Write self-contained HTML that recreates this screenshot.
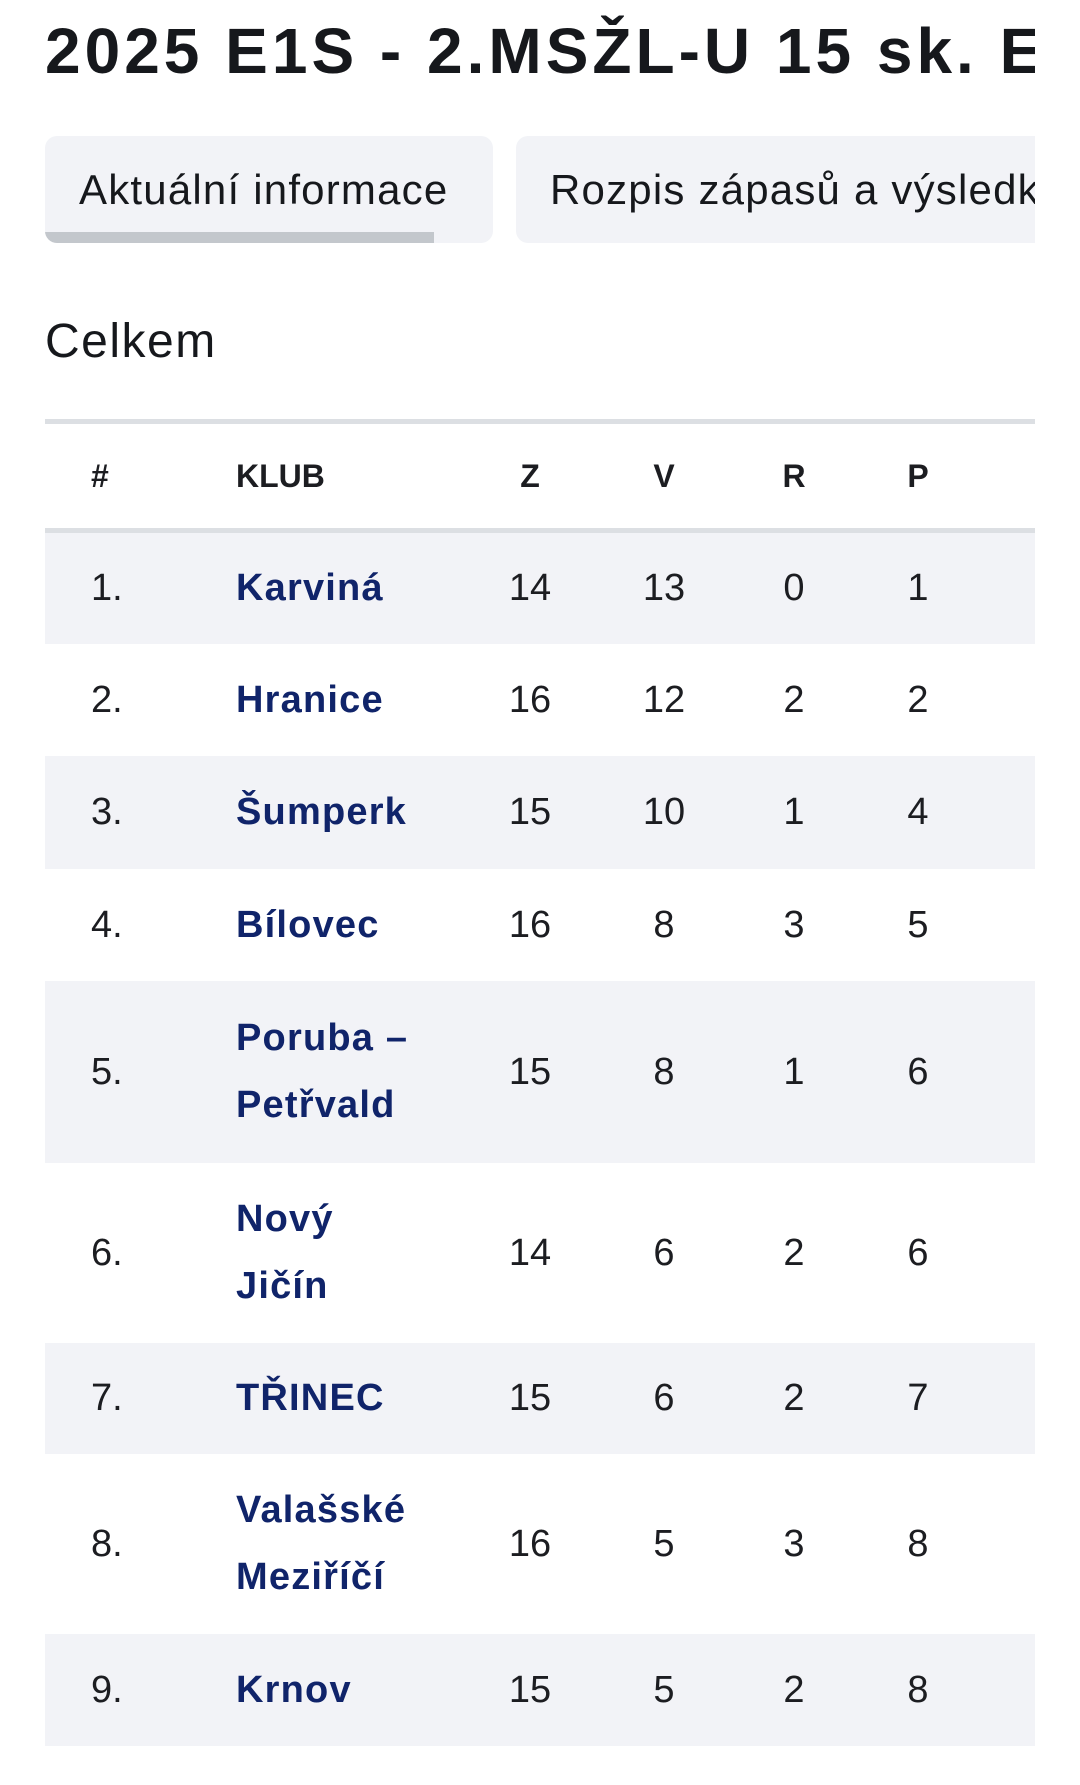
<!DOCTYPE html>
<html><head><meta charset="utf-8"><style>
*{margin:0;padding:0;box-sizing:border-box}
body{width:1080px;height:1785px;background:#fff;font-family:"Liberation Sans",sans-serif;color:#16181c;position:relative;overflow:hidden}
.a{position:absolute;white-space:nowrap}
.clip{position:absolute;left:0;top:0;width:1035px;height:1785px;overflow:hidden}
.tab{position:absolute;top:136px;height:107px;background:#f2f3f7;border-radius:12px;overflow:hidden}
.row{position:absolute;left:45px;width:1100px}
.row.g{background:#f2f3f7}
.c{position:absolute;top:0;height:100%;display:flex;align-items:center;font-size:38px;color:#1c1d21}
.n{justify-content:center;width:80px;margin-left:-40px}
.club{color:#10246a;font-weight:bold;font-size:38px;line-height:67px;left:191px;letter-spacing:1.2px}
.h{font-weight:bold;font-size:32px}
</style></head><body>
<div class="clip">
<div class="a" style="left:45px;top:14px;font-size:64px;font-weight:bold;letter-spacing:4px">2025 E1S - 2.MSŽL-U 15 sk. E</div>
<div class="tab" style="left:45px;width:448px">
 <div class="a" style="left:34px;top:30px;font-size:42px;letter-spacing:1.2px">Aktuální informace</div>
 <div class="a" style="left:0;top:96px;width:389px;height:11px;background:#c3c7cc"></div>
</div>
<div class="tab" style="left:516px;width:600px">
 <div class="a" style="left:34px;top:30px;font-size:42px;letter-spacing:1.2px">Rozpis zápasů a výsledků</div>
</div>
<div class="a" style="left:45px;top:314px;font-size:48px;letter-spacing:1.5px">Celkem</div>
<div class="a" style="left:45px;top:419px;width:1100px;height:5px;background:#dcdfe3"></div>
<div class="row" style="top:424px;height:104px">
 <div class="c h" style="left:46px">#</div>
 <div class="c h" style="left:191px">KLUB</div>
 <div class="c h n" style="left:485px">Z</div>
 <div class="c h n" style="left:619px">V</div>
 <div class="c h n" style="left:749px">R</div>
 <div class="c h n" style="left:873px">P</div>
 <div class="c h" style="left:990px">S</div>
</div>
<div class="a" style="left:45px;top:528px;width:1100px;height:5px;background:#dcdfe3"></div>

<div class="row g" style="top:533px;height:111px"><div class="c" style="left:46px">1.</div><div class="c club">Karviná</div><div class="c n" style="left:485px">14</div><div class="c n" style="left:619px">13</div><div class="c n" style="left:749px">0</div><div class="c n" style="left:873px">1</div></div>
<div class="row" style="top:644px;height:112px"><div class="c" style="left:46px">2.</div><div class="c club">Hranice</div><div class="c n" style="left:485px">16</div><div class="c n" style="left:619px">12</div><div class="c n" style="left:749px">2</div><div class="c n" style="left:873px">2</div></div>
<div class="row g" style="top:756px;height:113px"><div class="c" style="left:46px">3.</div><div class="c club">Šumperk</div><div class="c n" style="left:485px">15</div><div class="c n" style="left:619px">10</div><div class="c n" style="left:749px">1</div><div class="c n" style="left:873px">4</div></div>
<div class="row" style="top:869px;height:112px"><div class="c" style="left:46px">4.</div><div class="c club">Bílovec</div><div class="c n" style="left:485px">16</div><div class="c n" style="left:619px">8</div><div class="c n" style="left:749px">3</div><div class="c n" style="left:873px">5</div></div>
<div class="row g" style="top:981px;height:182px"><div class="c" style="left:46px">5.</div><div class="c club">Poruba –<br>Petřvald</div><div class="c n" style="left:485px">15</div><div class="c n" style="left:619px">8</div><div class="c n" style="left:749px">1</div><div class="c n" style="left:873px">6</div></div>
<div class="row" style="top:1163px;height:180px"><div class="c" style="left:46px">6.</div><div class="c club">Nový<br>Jičín</div><div class="c n" style="left:485px">14</div><div class="c n" style="left:619px">6</div><div class="c n" style="left:749px">2</div><div class="c n" style="left:873px">6</div></div>
<div class="row g" style="top:1343px;height:111px"><div class="c" style="left:46px">7.</div><div class="c club">TŘINEC</div><div class="c n" style="left:485px">15</div><div class="c n" style="left:619px">6</div><div class="c n" style="left:749px">2</div><div class="c n" style="left:873px">7</div></div>
<div class="row" style="top:1454px;height:180px"><div class="c" style="left:46px">8.</div><div class="c club">Valašské<br>Meziříčí</div><div class="c n" style="left:485px">16</div><div class="c n" style="left:619px">5</div><div class="c n" style="left:749px">3</div><div class="c n" style="left:873px">8</div></div>
<div class="row g" style="top:1634px;height:112px"><div class="c" style="left:46px">9.</div><div class="c club">Krnov</div><div class="c n" style="left:485px">15</div><div class="c n" style="left:619px">5</div><div class="c n" style="left:749px">2</div><div class="c n" style="left:873px">8</div></div>
</div>
</body></html>
